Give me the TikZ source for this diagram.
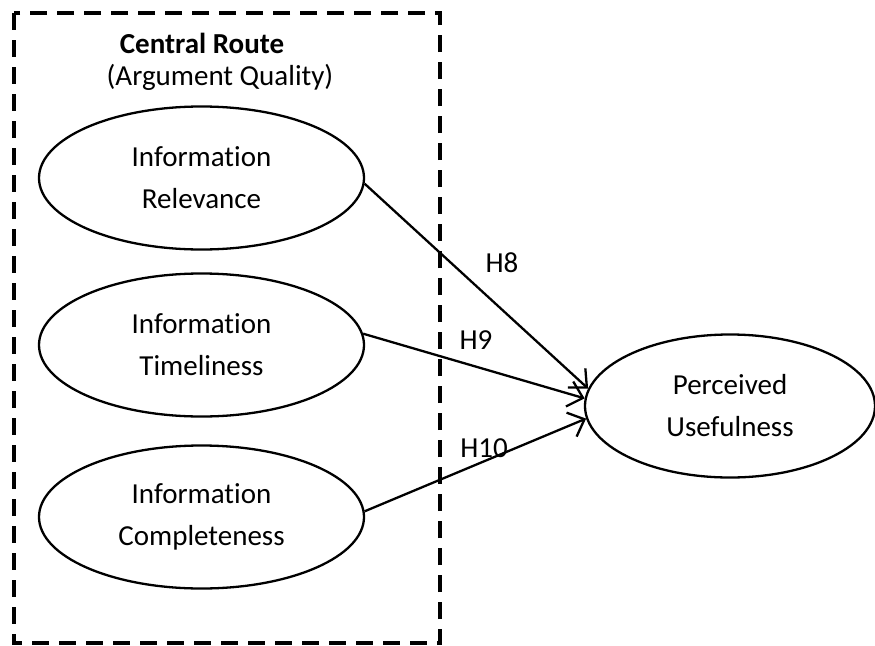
\documentclass[tikz,border=0pt]{standalone}
\usepackage{fontspec}
\setmainfont{Carlito}[RawFeature={-liga;-clig;-calt;-dlig;-rlig}]
\usetikzlibrary{shapes.geometric,arrows.meta}
\newcommand{\infoword}{Informat\kern0pt ion}

\begin{document}
\begin{tikzpicture}[x=1pt,y=-1pt,>={Straight Barb[length=14pt,width=26pt]},
  construct/.style={ellipse, draw, line width=2.3pt, minimum width=325pt, minimum height=143pt, inner sep=0pt, align=center},
  hyp/.style={->, line width=2.3pt},
  every node/.style={font=\fontsize{29pt}{42pt}\selectfont}]
\useasboundingbox (0,0) rectangle (875,645);

% central route frame
\draw[line width=4pt, dash pattern=on 17pt off 10pt] (14,13) rectangle (440,643);
\node[font=\fontsize{29pt}{42pt}\selectfont\bfseries] (route) at (202,43) {Central Route};
\node (quality) at (220,77) {(Argument Quality)};

\node[construct] (rel) at (201.5,178) {\infoword\\Relevance};
\node[construct] (time) at (201.5,345) {\infoword\\Timeliness};
\node[construct] (comp) at (201.5,517) {\infoword\\Completeness};
\node[construct, minimum width=290pt] (pu) at (730,406) {Perceived\\Usefulness};

\draw[hyp] (rel.-2) -- (pu.173);
\draw[hyp] (time.4) -- (pu.177);
\draw[hyp] (comp.2) -- (pu.185);
\node (h8) at (502,263) {H8};
\node (h9) at (476,340) {H9};
\node (h10) at (484,448) {H10};
\end{tikzpicture}
\end{document}
